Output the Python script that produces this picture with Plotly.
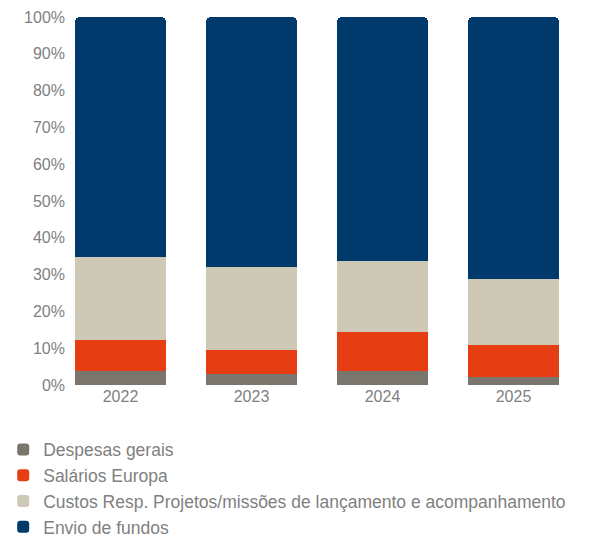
import plotly.graph_objects as go

years = ["2022", "2023", "2024", "2025"]
series_names = [
    "Despesas gerais",
    "Salários Europa",
    "Custos Resp. Projetos/missões de lançamento e acompanhamento",
    "Envio de fundos",
]
despesas = [3.7, 2.9, 3.7, 2.2]
salarios = [8.5, 6.5, 10.7, 8.6]
custos = [22.5, 22.6, 19.2, 17.9]
envio = [65.3, 68.0, 66.4, 71.3]
colors = ["#7A756D", "#E63E12", "#CEC8B6", "#003A6C"]
y_ticks = [0, 10, 20, 30, 40, 50, 60, 70, 80, 90, 100]
y_tick_labels = [f"{v}%" for v in y_ticks]

fig = go.Figure()
for name, vals, col in zip(series_names, [despesas, salarios, custos, envio], colors):
    fig.add_trace(go.Bar(x=years, y=vals, name=name, marker_color=col,
                         marker_line_width=0, width=0.695))

fig.update_layout(
    width=595, height=531,
    barmode="stack",
    barcornerradius=5,
    plot_bgcolor="white", paper_bgcolor="white",
    margin=dict(l=58, r=24, t=9, b=153.5, autoexpand=False),
    font=dict(family="Liberation Sans, Arial, sans-serif", color="#7F7F7F", size=16),
    xaxis=dict(type="category", range=[-0.416, 3.5], showgrid=False, showline=False,
               ticks="", tickfont=dict(size=16, color="#7F7F7F")),
    yaxis=dict(range=[0, 100], tickmode="array", tickvals=y_ticks, ticktext=y_tick_labels,
               showgrid=False, showline=False, zeroline=False, ticks="",
               tickfont=dict(size=16, color="#7F7F7F")),
    legend=dict(orientation="v", traceorder="normal", x=-0.1224, xanchor="left",
                y=-0.127, yanchor="top", font=dict(size=17.5, color="#7F7F7F"),
                itemwidth=30, tracegroupgap=0),
    showlegend=True,
)
fig.write_html("out.html")
